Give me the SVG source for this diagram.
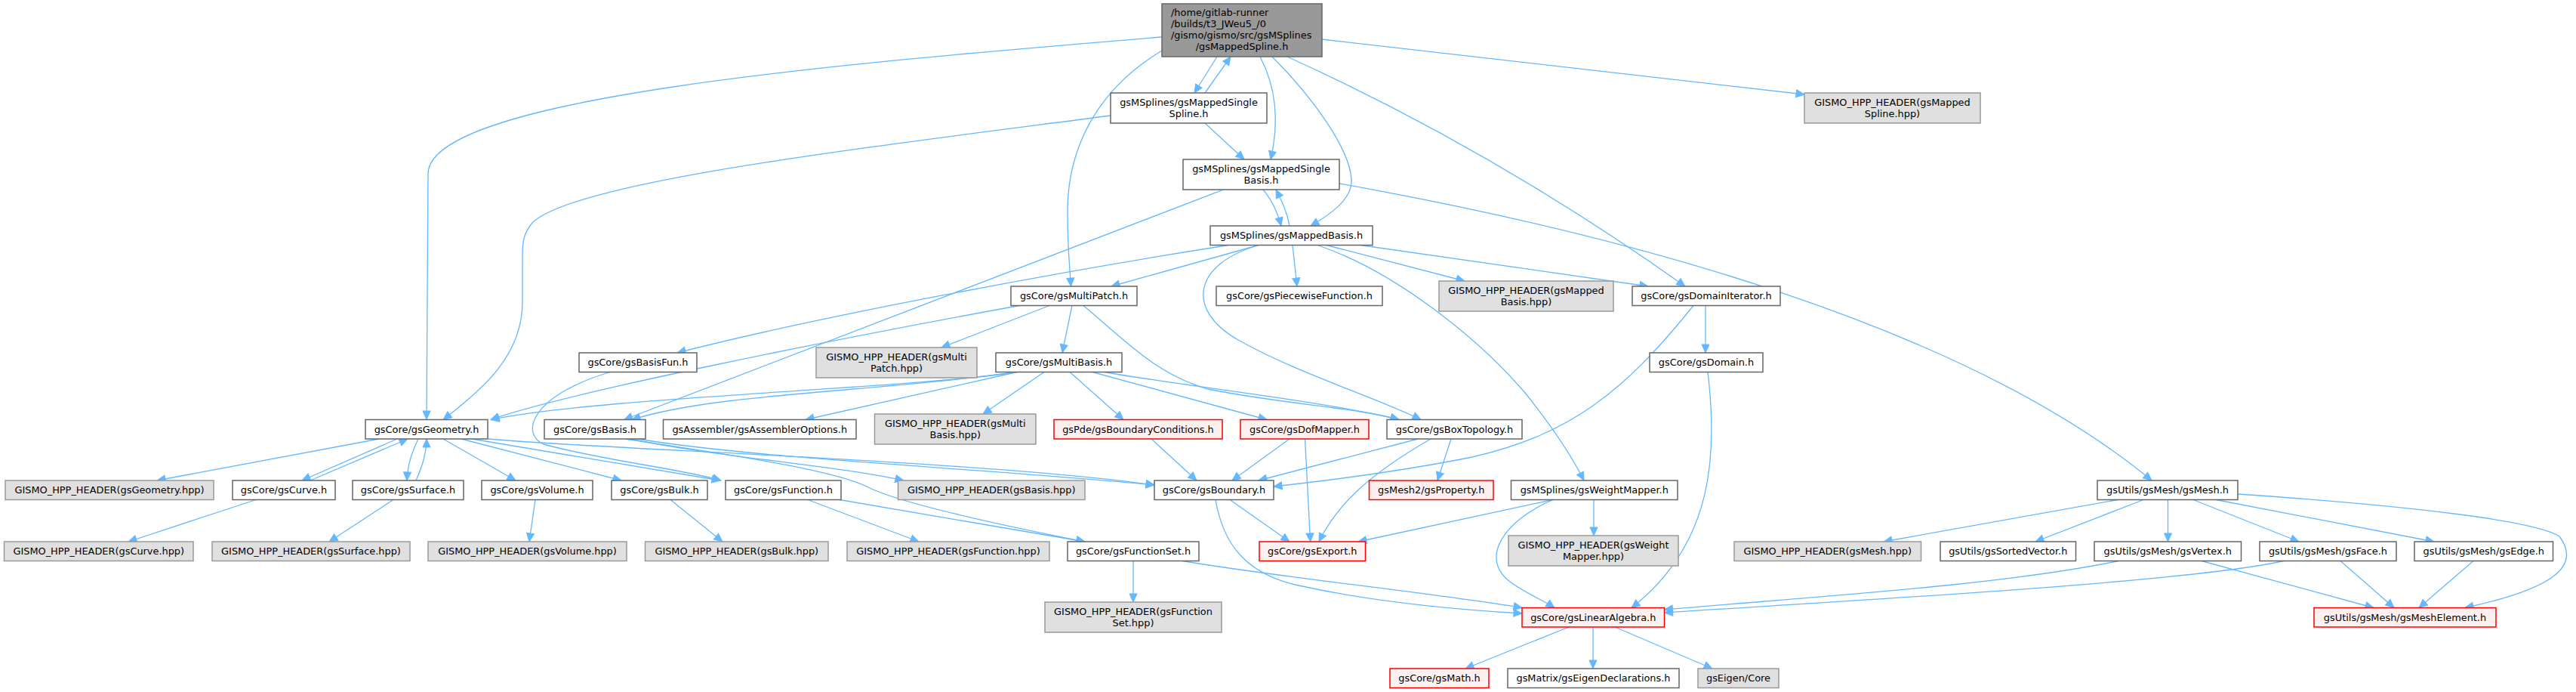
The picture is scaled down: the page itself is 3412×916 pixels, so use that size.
<svg xmlns="http://www.w3.org/2000/svg" width="3412" height="916" viewBox="0 0 3412 916">
<style>
rect{stroke-width:1.5}
.n{fill:#ffffff;stroke:#666666}
.g{fill:#e0e0e0;stroke:#999999}
.r{fill:#fff0f0;stroke:#ff0000}
.m{fill:#999999;stroke:#666666}
text{font-family:"DejaVu Sans","Liberation Sans",sans-serif;font-size:12.9px;fill:#000000;text-anchor:middle}
.l{text-anchor:start}
#edges path{fill:none;stroke:#63b8ff;stroke-width:1.3;marker-end:url(#ah)}
</style>
<defs>
<marker id="ah" markerUnits="userSpaceOnUse" markerWidth="12" markerHeight="10" refX="11" refY="5" orient="auto" overflow="visible">
<path d="M0,0 L11,5 L0,10 z" fill="#63b8ff" stroke="#63b8ff" stroke-width="1"/>
</marker>
</defs>
<rect width="3412" height="916" fill="#ffffff"/>
<g id="edges">
<path d="M1539,49 C1100,85 567,130 567,230 L565,555"/>
<path d="M1539,67 C1450,120 1414,200 1414,280 C1414,330 1417,355 1418.5,379"/>
<path d="M1612,75 L1582,123"/>
<path d="M1596,123 L1630,75"/>
<path d="M1669,75 C1690,115 1695,160 1683,211"/>
<path d="M1685,75 C1740,130 1790,200 1790,240 C1790,265 1760,285 1736,299"/>
<path d="M1705,75 Q1980,200 2232,379"/>
<path d="M1751,52 L2390,125"/>
<path d="M1471,153 C1150,195 760,240 705,295 C693,310 692,320 692,340 L692,400 C692,470 640,515 587,555.5"/>
<path d="M1596,163 L1648,211"/>
<path d="M1673,251 C1685,265 1692,280 1697,299"/>
<path d="M1708,299 C1705,280 1697,265 1690,251"/>
<path d="M1620.5,251 L826.7,555.5"/>
<path d="M1774,243 C2150,310 2600,430 2850,636"/>
<path d="M1627,324.5 C1400,360 1080,420 897,467"/>
<path d="M1667,324.5 L1472,379"/>
<path d="M1667,324.5 C1580,350 1570,410 1640,450 C1720,495 1820,525 1882,555.5"/>
<path d="M1712,324.5 L1718,379"/>
<path d="M1745,324.5 C1850,360 1960,450 2020,520 C2060,570 2085,610 2098,636"/>
<path d="M1757,324.5 L1940,372"/>
<path d="M1802,324.5 L2183,379"/>
<path d="M1350,404.5 C1100,450 750,520 650,555.5"/>
<path d="M1390,404.5 L1247,460"/>
<path d="M1420,404.5 L1407,467"/>
<path d="M1435,404.5 C1490,450 1530,495 1600,515 C1700,535 1800,540 1853,555.5"/>
<path d="M1347,492.5 C1200,515 800,525 650,555.5"/>
<path d="M1347,492.5 C1150,520 950,520 837,555.5"/>
<path d="M1347,492.5 L1067,555.5"/>
<path d="M1383,492.5 L1302,548"/>
<path d="M1417,492.5 L1488,555.5"/>
<path d="M1447,492.5 L1678,555.5"/>
<path d="M1463,492.5 C1560,510 1750,530 1853,555.5"/>
<path d="M808,492.5 C700,525 690,575 720,588 C800,610 900,620 955,636"/>
<path d="M625,581 L954,636"/>
<path d="M647,581 C800,595 1300,610 1529,642"/>
<path d="M845,581 C1000,607 1300,620 1529,642"/>
<path d="M835,581 C950,605 1100,615 1197,636"/>
<path d="M828,581 C950,600 1100,620 1150,645 C1190,665 1300,690 1437,717"/>
<path d="M1070,661.5 L1217,717"/>
<path d="M1112,661.5 L1437,717"/>
<path d="M1501,742.5 L1501,797"/>
<path d="M1566,742.5 C1700,765 1900,785 2016,804.5"/>
<path d="M1610,661.5 C1620,720 1650,760 1720,775 C1820,797 1930,807 2016,812"/>
<path d="M1629,661.5 L1708,717"/>
<path d="M1525,581 L1585,636"/>
<path d="M1708,581 L1632,636"/>
<path d="M1728.5,581 L1735.6,717"/>
<path d="M1878,581 L1667,636"/>
<path d="M1895,581 C1810,630 1770,670 1747,717"/>
<path d="M1922,581 L1904,636"/>
<path d="M2243,404.5 C2150,520 2080,575 1950,605 C1850,625 1760,636 1687,644"/>
<path d="M2259,404.5 L2259,467"/>
<path d="M2262,492.5 C2275,600 2270,720 2161,804.5"/>
<path d="M2057,661.5 L1799,717"/>
<path d="M2057,661.5 C1990,690 1960,740 2000,770 C2020,785 2045,795 2059,804.5"/>
<path d="M2111,661.5 L2111,709"/>
<path d="M2078,830 L1941,885"/>
<path d="M2110,830 L2110,885"/>
<path d="M2139,830 L2268,885"/>
<path d="M2805,661.5 L2495,717"/>
<path d="M2839,661.5 L2696,717"/>
<path d="M2871.5,661.5 L2871.5,717"/>
<path d="M2905,661.5 L3045,717"/>
<path d="M2935,661.5 L3224,717"/>
<path d="M2964,654 C3200,670 3360,690 3390,710 C3420,750 3380,780 3265,804.5"/>
<path d="M2806,742.5 C2650,775 2400,790 2204.5,807"/>
<path d="M3025,742.5 C2900,770 2500,792 2204.5,811"/>
<path d="M2916,742.5 L3144,804.5"/>
<path d="M3100,742.5 L3171,804.5"/>
<path d="M3276,742.5 L3204,804.5"/>
<path d="M502,581 L208,636"/>
<path d="M526,581 L400,636"/>
<path d="M411,636 L540,581"/>
<path d="M554,581 C545,600 540,615 539,636"/>
<path d="M551,636 C560,615 565,600 565,581"/>
<path d="M587,581 L683,636"/>
<path d="M611,581 L823,636"/>
<path d="M339,661.5 L170,717"/>
<path d="M521,661.5 L436,717"/>
<path d="M709,661.5 L701,717"/>
<path d="M888,661.5 L957,717"/>
</g>
<g id="node-top"><rect class="m" x="1539" y="5" width="212" height="70"/><text class="l" x="1551" y="21">/home/gitlab-runner</text><text class="l" x="1551" y="36">/builds/t3_JWeu5_/0</text><text class="l" x="1551" y="51">/gismo/gismo/src/gsMSplines</text><text x="1645" y="66">/gsMappedSpline.h</text></g>
<g id="node-single-spline"><rect class="n" x="1471" y="123" width="207" height="40"/><text x="1574.5" y="139.5">gsMSplines/gsMappedSingle</text><text x="1574.5" y="154.5">Spline.h</text></g>
<g id="node-spline-hpp"><rect class="g" x="2390" y="123" width="233" height="40"/><text x="2506.5" y="139.5">GISMO_HPP_HEADER(gsMapped</text><text x="2506.5" y="154.5">Spline.hpp)</text></g>
<g id="node-single-basis"><rect class="n" x="1567" y="211" width="207" height="40"/><text x="1670.5" y="227.5">gsMSplines/gsMappedSingle</text><text x="1670.5" y="242.5">Basis.h</text></g>
<g id="node-mapped-basis"><rect class="n" x="1603" y="299" width="215" height="25.5"/><text x="1710.5" y="316">gsMSplines/gsMappedBasis.h</text></g>
<g id="node-multipatch"><rect class="n" x="1339" y="379" width="167" height="25.5"/><text x="1422.5" y="396">gsCore/gsMultiPatch.h</text></g>
<g id="node-piecewise"><rect class="n" x="1611" y="379" width="220" height="25.5"/><text x="1721" y="396">gsCore/gsPiecewiseFunction.h</text></g>
<g id="node-mappedbasis-hpp"><rect class="g" x="1906" y="372" width="231" height="40"/><text x="2021.5" y="388.5">GISMO_HPP_HEADER(gsMapped</text><text x="2021.5" y="403.5">Basis.hpp)</text></g>
<g id="node-domainiter"><rect class="n" x="2162" y="379" width="196" height="25.5"/><text x="2260" y="396">gsCore/gsDomainIterator.h</text></g>
<g id="node-basisfun"><rect class="n" x="767" y="467" width="156" height="25.5"/><text x="845" y="484">gsCore/gsBasisFun.h</text></g>
<g id="node-multipatch-hpp"><rect class="g" x="1081" y="460" width="213" height="40"/><text x="1187.5" y="476.5">GISMO_HPP_HEADER(gsMulti</text><text x="1187.5" y="491.5">Patch.hpp)</text></g>
<g id="node-multibasis"><rect class="n" x="1319" y="467" width="167" height="25.5"/><text x="1402.5" y="484">gsCore/gsMultiBasis.h</text></g>
<g id="node-domain"><rect class="n" x="2185" y="467" width="150" height="25.5"/><text x="2260" y="484">gsCore/gsDomain.h</text></g>
<g id="node-geometry"><rect class="n" x="484" y="555.5" width="162" height="25.5"/><text x="565" y="572.5">gsCore/gsGeometry.h</text></g>
<g id="node-basis"><rect class="n" x="721" y="555.5" width="134" height="25.5"/><text x="788" y="572.5">gsCore/gsBasis.h</text></g>
<g id="node-assembleropts"><rect class="n" x="878.5" y="555.5" width="255.5" height="25.5"/><text x="1006.25" y="572.5">gsAssembler/gsAssemblerOptions.h</text></g>
<g id="node-multibasis-hpp"><rect class="g" x="1158.5" y="548" width="213.5" height="40"/><text x="1265.25" y="564.5">GISMO_HPP_HEADER(gsMulti</text><text x="1265.25" y="579.5">Basis.hpp)</text></g>
<g id="node-bc"><rect class="r" x="1396" y="555.5" width="223" height="25.5"/><text x="1507.5" y="572.5">gsPde/gsBoundaryConditions.h</text></g>
<g id="node-dofmapper"><rect class="r" x="1643" y="555.5" width="170" height="25.5"/><text x="1728" y="572.5">gsCore/gsDofMapper.h</text></g>
<g id="node-boxtopo"><rect class="n" x="1837" y="555.5" width="179" height="25.5"/><text x="1926.5" y="572.5">gsCore/gsBoxTopology.h</text></g>
<g id="node-geometry-hpp"><rect class="g" x="7" y="636" width="276" height="25.5"/><text x="145" y="653">GISMO_HPP_HEADER(gsGeometry.hpp)</text></g>
<g id="node-curve"><rect class="n" x="308" y="636" width="136" height="25.5"/><text x="376" y="653">gsCore/gsCurve.h</text></g>
<g id="node-surface"><rect class="n" x="467" y="636" width="147" height="25.5"/><text x="540.5" y="653">gsCore/gsSurface.h</text></g>
<g id="node-volume"><rect class="n" x="638" y="636" width="147" height="25.5"/><text x="711.5" y="653">gsCore/gsVolume.h</text></g>
<g id="node-bulk"><rect class="n" x="810" y="636" width="127" height="25.5"/><text x="873.5" y="653">gsCore/gsBulk.h</text></g>
<g id="node-function"><rect class="n" x="961" y="636" width="153" height="25.5"/><text x="1037.5" y="653">gsCore/gsFunction.h</text></g>
<g id="node-basis-hpp"><rect class="g" x="1189.5" y="636" width="247.5" height="25.5"/><text x="1313.25" y="653">GISMO_HPP_HEADER(gsBasis.hpp)</text></g>
<g id="node-boundary"><rect class="n" x="1529" y="636" width="158" height="25.5"/><text x="1608" y="653">gsCore/gsBoundary.h</text></g>
<g id="node-property"><rect class="r" x="1813.5" y="636" width="164.5" height="25.5"/><text x="1895.75" y="653">gsMesh2/gsProperty.h</text></g>
<g id="node-weightmapper"><rect class="n" x="2001.5" y="636" width="220.5" height="25.5"/><text x="2111.75" y="653">gsMSplines/gsWeightMapper.h</text></g>
<g id="node-mesh"><rect class="n" x="2778" y="636" width="186" height="25.5"/><text x="2871" y="653">gsUtils/gsMesh/gsMesh.h</text></g>
<g id="node-curve-hpp"><rect class="g" x="5.5" y="717" width="250.5" height="25.5"/><text x="130.75" y="734">GISMO_HPP_HEADER(gsCurve.hpp)</text></g>
<g id="node-surface-hpp"><rect class="g" x="281" y="717" width="262" height="25.5"/><text x="412" y="734">GISMO_HPP_HEADER(gsSurface.hpp)</text></g>
<g id="node-volume-hpp"><rect class="g" x="567" y="717" width="263" height="25.5"/><text x="698.5" y="734">GISMO_HPP_HEADER(gsVolume.hpp)</text></g>
<g id="node-bulk-hpp"><rect class="g" x="854.5" y="717" width="242.5" height="25.5"/><text x="975.75" y="734">GISMO_HPP_HEADER(gsBulk.hpp)</text></g>
<g id="node-function-hpp"><rect class="g" x="1122" y="717" width="268" height="25.5"/><text x="1256" y="734">GISMO_HPP_HEADER(gsFunction.hpp)</text></g>
<g id="node-functionset"><rect class="n" x="1414" y="717" width="174" height="25.5"/><text x="1501" y="734">gsCore/gsFunctionSet.h</text></g>
<g id="node-export"><rect class="r" x="1668" y="717" width="140.5" height="25.5"/><text x="1738.25" y="734">gsCore/gsExport.h</text></g>
<g id="node-weightmapper-hpp"><rect class="g" x="1998" y="709" width="225" height="40"/><text x="2110.5" y="725.5">GISMO_HPP_HEADER(gsWeight</text><text x="2110.5" y="740.5">Mapper.hpp)</text></g>
<g id="node-mesh-hpp"><rect class="g" x="2297" y="717" width="247.5" height="25.5"/><text x="2420.75" y="734">GISMO_HPP_HEADER(gsMesh.hpp)</text></g>
<g id="node-sortedvector"><rect class="n" x="2570" y="717" width="179.5" height="25.5"/><text x="2659.75" y="734">gsUtils/gsSortedVector.h</text></g>
<g id="node-vertex"><rect class="n" x="2774" y="717" width="194.5" height="25.5"/><text x="2871.25" y="734">gsUtils/gsMesh/gsVertex.h</text></g>
<g id="node-face"><rect class="n" x="2993" y="717" width="181" height="25.5"/><text x="3083.5" y="734">gsUtils/gsMesh/gsFace.h</text></g>
<g id="node-edge"><rect class="n" x="3198" y="717" width="183.5" height="25.5"/><text x="3289.75" y="734">gsUtils/gsMesh/gsEdge.h</text></g>
<g id="node-functionset-hpp"><rect class="g" x="1384" y="797" width="234" height="40"/><text x="1501" y="813.5">GISMO_HPP_HEADER(gsFunction</text><text x="1501" y="828.5">Set.hpp)</text></g>
<g id="node-linalg"><rect class="r" x="2016" y="804.5" width="188.5" height="25.5"/><text x="2110.25" y="821.5">gsCore/gsLinearAlgebra.h</text></g>
<g id="node-meshelement"><rect class="r" x="3065" y="804.5" width="241" height="25.5"/><text x="3185.5" y="821.5">gsUtils/gsMesh/gsMeshElement.h</text></g>
<g id="node-math"><rect class="r" x="1841" y="885" width="131" height="25.5"/><text x="1906.5" y="902">gsCore/gsMath.h</text></g>
<g id="node-eigendecl"><rect class="n" x="1997" y="885" width="227" height="25.5"/><text x="2110.5" y="902">gsMatrix/gsEigenDeclarations.h</text></g>
<g id="node-eigencore"><rect class="g" x="2249" y="885" width="107" height="25.5"/><text x="2302.5" y="902">gsEigen/Core</text></g>
</svg>
